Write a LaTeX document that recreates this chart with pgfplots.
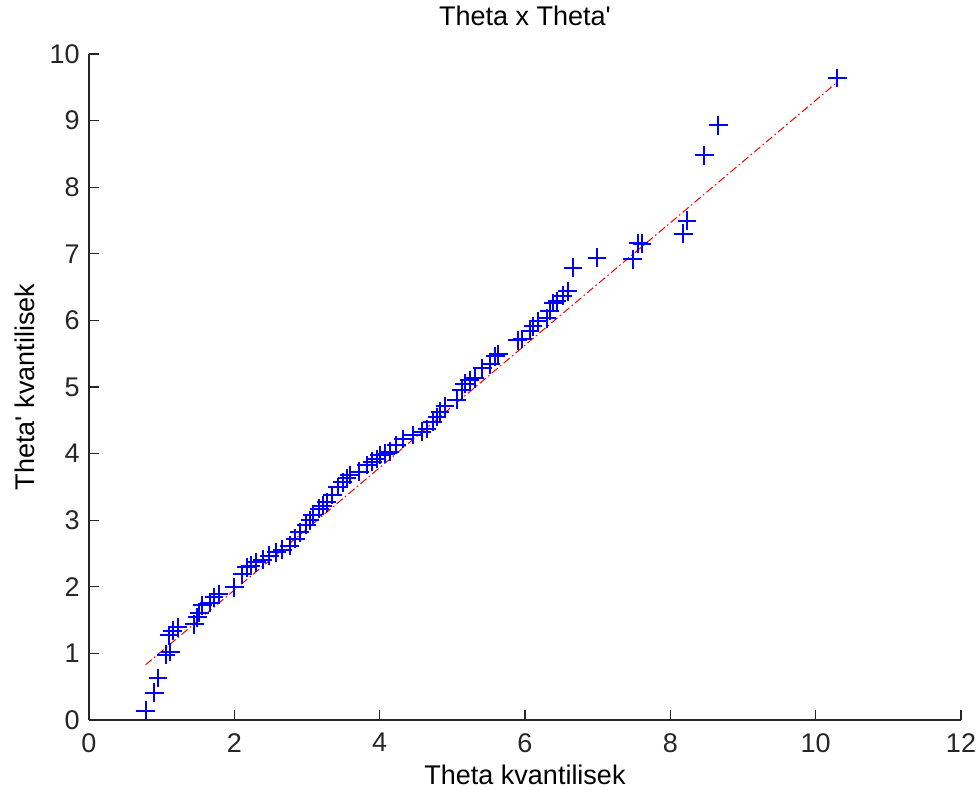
\documentclass[border=0pt]{standalone}
\usepackage{fontspec}
\setmainfont{Liberation Sans}
\usepackage{pgfplots}
\pgfplotsset{compat=1.18}
\begin{document}
\fontsize{13.5}{16}\selectfont
\begin{tikzpicture}
\useasboundingbox (-44.5pt,-34.5pt) rectangle (444.5pt,360pt);
\begin{axis}[
  at={(0,0)}, anchor=south west,
  scale only axis, width=436pt, height=333pt,
  xmin=0, xmax=12, ymin=0, ymax=10,
  axis x line=bottom, axis y line=left,
  axis line style={-, line width=0.6pt, color=black!85},
  xtick={0,2,...,12}, ytick={0,1,...,10},
  tick align=inside, major tick length=5pt,
  tick style={line width=0.6pt, color=black!85},
  /pgf/number format/assume math mode=true,
  ticklabel style={font=\fontsize{13.5}{16}\selectfont, text=black!85},
  xticklabel style={yshift=-2pt},
  title={Theta x Theta\textquotesingle},
  title style={font=\fontsize{13.5}{16}\selectfont, at={(0.5,1)}, anchor=center, yshift=13pt},
  xlabel={Theta kvantilisek},
  ylabel={Theta\textquotesingle{} kvantilisek},
  xlabel style={font=\fontsize{13.5}{16}\selectfont, at={(0.5,0)}, anchor=center, yshift=-27.5pt},
  every axis y label/.style={at={(rel axis cs:0,0.5)}, anchor=center, xshift=-32pt, rotate=90, font=\fontsize{13.5}{16}\selectfont},
  clip=false,
]
\addplot[red, line width=0.5pt, dash pattern=on 4pt off 1.5pt on 0.8pt off 1.5pt] coordinates {(0.78,0.83) (10.30,9.58)};
\addplot[only marks, mark=+, mark size=4.7pt, color=blue, mark options={line width=1pt}] coordinates {
(0.78,0.14) (0.90,0.41) (0.95,0.63) (1.06,0.98) (1.12,1.02) (1.10,1.27) (1.15,1.34) (1.22,1.39)
(1.45,1.44) (1.49,1.54) (1.52,1.61) (1.56,1.72) (1.66,1.76) (1.72,1.84) (1.79,1.89) (2.00,1.99)
(2.11,2.19) (2.17,2.29) (2.23,2.32) (2.30,2.37) (2.39,2.41) (2.48,2.47) (2.58,2.52) (2.66,2.56)
(2.76,2.62) (2.84,2.72) (2.90,2.82) (2.99,2.93) (3.04,3.00) (3.08,3.08) (3.17,3.17) (3.22,3.22)
(3.27,3.27) (3.35,3.38) (3.42,3.50) (3.49,3.57) (3.55,3.63) (3.59,3.68) (3.72,3.73) (3.82,3.83)
(3.90,3.88) (3.96,3.92) (4.00,3.98) (4.08,4.00) (4.14,4.03) (4.23,4.13) (4.32,4.22) (4.46,4.28)
(4.58,4.33) (4.65,4.37) (4.73,4.48) (4.79,4.55) (4.83,4.63) (4.90,4.71) (5.06,4.81) (5.13,4.96)
(5.17,5.05) (5.24,5.10) (5.31,5.13) (5.41,5.28) (5.52,5.34) (5.59,5.46) (5.63,5.49) (5.90,5.70)
(5.96,5.72) (6.07,5.84) (6.11,5.91) (6.18,5.99) (6.30,6.03) (6.34,6.14) (6.39,6.26) (6.44,6.29)
(6.52,6.37) (6.59,6.44) (6.66,6.79) (6.99,6.94) (7.48,6.92) (7.56,7.16) (7.61,7.15) (8.18,7.30)
(8.23,7.50) (8.47,8.48) (8.66,8.93) (10.30,9.64)
};
\end{axis}
\end{tikzpicture}
\end{document}
